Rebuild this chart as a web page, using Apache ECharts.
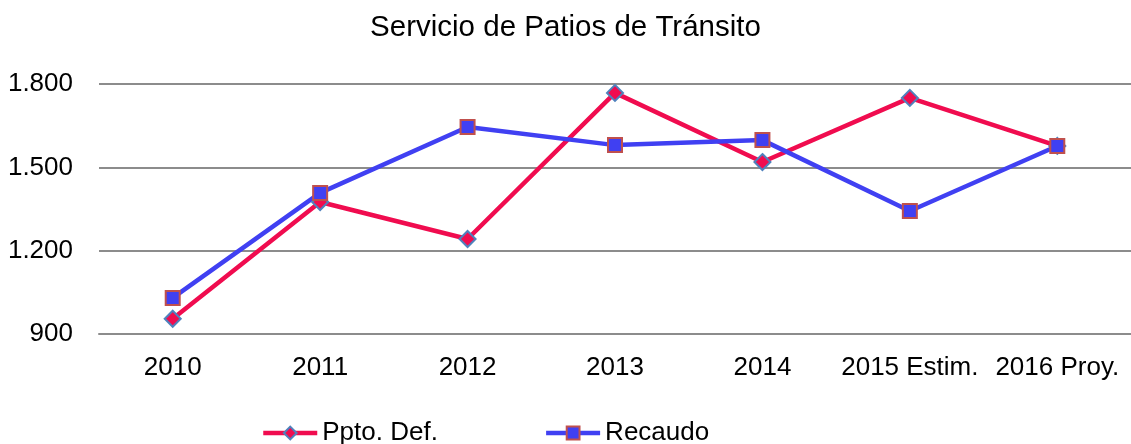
<!DOCTYPE html>
<html>
<head>
<meta charset="utf-8">
<script src="https://cdn.jsdelivr.net/npm/echarts@6/dist/echarts.min.js"></script>
<style>
  html, body { margin: 0; padding: 0; background: #fff; }
  #chart { width: 1131px; height: 444px; }
</style>
</head>
<body>
<div id="chart"></div>
<script>
var years = ['2010', '2011', '2012', '2013', '2014', '2015 Estim.', '2016 Proy.'];
var pptoDef = [955, 1375, 1242, 1768, 1519, 1750, 1577];
var recaudo = [1030, 1408, 1645, 1580, 1598, 1343, 1577];
var yTicks = [900, 1200, 1500, 1800];

var myChart = echarts.init(document.getElementById('chart'));
myChart.setOption({
  animation: false,
  title: {
    text: 'Servicio de Patios de Tránsito',
    left: 'center',
    top: 8,
    textStyle: { fontFamily: 'Liberation Sans', fontSize: 29.5, fontWeight: 'normal', color: '#000' }
  },
  legend: {
    top: 415,
    left: 256,
    itemGap: 106,
    itemWidth: 54,
    itemHeight: 16,
    lineStyle: { width: 4.5 },
    textStyle: { fontFamily: 'Liberation Sans', fontSize: 26, color: '#000' },
    data: ['Ppto. Def.', 'Recaudo']
  },
  grid: { left: 99, right: -11, top: 84, bottom: 110 },
  xAxis: {
    type: 'category',
    data: years,
    axisLine: { lineStyle: { color: '#8c8c8c', width: 2 } },
    axisTick: { show: false },
    axisLabel: { interval: 0, fontFamily: 'Liberation Sans', fontSize: 26, color: '#000', margin: 21 }
  },
  yAxis: {
    type: 'value',
    min: yTicks[0],
    max: yTicks[yTicks.length - 1],
    interval: 300,
    axisLine: { show: false },
    axisTick: { show: false },
    splitLine: { lineStyle: { color: '#8c8c8c', width: 2 } },
    axisLabel: {
      fontFamily: 'Liberation Sans', fontSize: 26, color: '#000', margin: 26,
      formatter: function (v) { return v >= 1000 ? String(v).replace(/(\d)(\d{3})$/, '$1.$2') : String(v); }
    }
  },
  series: [
    {
      name: 'Ppto. Def.',
      type: 'line',
      data: pptoDef,
      symbol: 'diamond',
      symbolSize: 16,
      lineStyle: { color: '#f00c4f', width: 4.5 },
      itemStyle: { color: '#f00c4f', borderColor: '#4f81bd', borderWidth: 2 }
    },
    {
      name: 'Recaudo',
      type: 'line',
      data: recaudo,
      symbol: 'rect',
      symbolSize: 14,
      lineStyle: { color: '#4040f2', width: 4.5 },
      itemStyle: { color: '#4040f2', borderColor: '#c0504d', borderWidth: 2 }
    }
  ]
});
</script>
</body>
</html>
